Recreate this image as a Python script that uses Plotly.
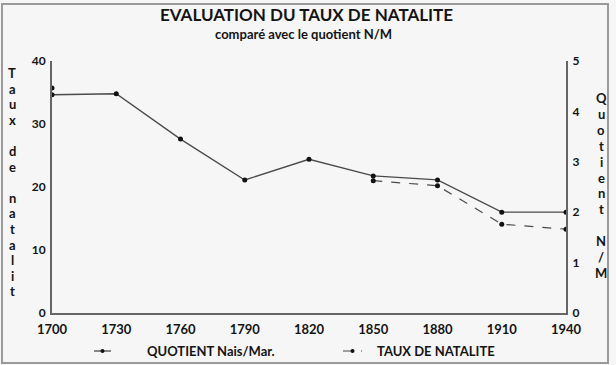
import plotly.graph_objects as go

years = [1700, 1730, 1760, 1790, 1820, 1850, 1880, 1910, 1940]
quotient = [4.33, 4.35, 3.45, 2.64, 3.05, 2.72, 2.64, 2.0, 2.0]
taux = [35.7, None, None, None, None, 21.0, 20.2, 14.1, 13.3]
left_ticks = [0, 10, 20, 30, 40]
right_ticks = [0, 1, 2, 3, 4, 5]
left_title = "Taux de natalit"
right_title = "Quotient N/M"

FONT = "Lato"
ink = "#141414"
axis_c = "#666666"
line_c = "#4a4a4a"

fig = go.Figure()
fig.add_trace(go.Scatter(
    x=years, y=quotient, yaxis="y2", mode="lines+markers",
    name="QUOTIENT Nais/Mar.", showlegend=False,
    line=dict(color=line_c, width=1.3),
    marker=dict(color="#111111", size=5),
))
fig.add_trace(go.Scatter(
    x=years, y=taux, mode="lines+markers", connectgaps=False,
    name="TAUX DE NATALITE", showlegend=False,
    line=dict(color=line_c, width=1.2, dash="dash"),
    marker=dict(color="#111111", size=5),
))

L, R, T, B = 52, 50, 61, 52
W, H = 616, 365
pw, ph = W - L - R, H - T - B

def px(x):
    return (x - L) / pw

def py(y):
    return (H - B - y) / ph

def ann(text, x, y, size, xanchor="center"):
    return dict(text=text, xref="paper", yref="paper", x=px(x), y=py(y),
                xanchor=xanchor, yanchor="middle", showarrow=False,
                font=dict(size=size, family=FONT))

annotations = [
    ann("<b>EVALUATION DU TAUX DE NATALITE</b>", 306, 15, 17),
    ann("<b>comparé avec le quotient N/M</b>", 303, 34, 13),
]

def stacked(text, xc, y0, step, size):
    y = y0
    for ch in text:
        if ch != " ":
            annotations.append(ann(f"<b>{ch}</b>", xc, y, size))
        y += step

stacked(left_title, 12, 73, 15.6, 13)
stacked(right_title, 601, 98, 15.9, 13)

# legend
annotations += [
    ann("<b>QUOTIENT Nais/Mar.</b>", 145, 351, 13, "left"),
    ann("<b>TAUX DE NATALITE</b>", 375, 351, 13, "left"),
]
shapes = [
    dict(type="rect", xref="paper", yref="paper", x0=px(2), x1=px(608), y0=py(363), y1=py(4),
         line=dict(color="#9a9a9a", width=2)),
    dict(type="line", xref="paper", yref="paper", x0=px(94), x1=px(111), y0=py(351), y1=py(351),
         line=dict(color=line_c, width=1.3)),
    dict(type="circle", xref="paper", yref="paper", x0=px(100.5), x1=px(104.5), y0=py(353), y1=py(349),
         fillcolor="#111111", line=dict(width=0)),
    dict(type="line", xref="paper", yref="paper", x0=px(343), x1=px(362), y0=py(351), y1=py(351),
         line=dict(color=line_c, width=1.2, dash="dash")),
    dict(type="circle", xref="paper", yref="paper", x0=px(350.5), x1=px(354.5), y0=py(353), y1=py(349),
         fillcolor="#111111", line=dict(width=0)),
]

fig.update_layout(
    width=W, height=H,
    margin=dict(l=L, r=R, t=T, b=B, autoexpand=False),
    paper_bgcolor="#f6f6f6", plot_bgcolor="#f6f6f6",
    font=dict(family=FONT, color=ink, size=12),
    showlegend=False,
    xaxis=dict(range=[1700, 1940], tickvals=years, ticktext=[f"<b>{y}</b>" for y in years],
               showgrid=False, zeroline=False, showline=True, linecolor=axis_c, linewidth=2,
               ticks="", tickfont=dict(size=13), ticklabelstandoff=3),
    yaxis=dict(range=[0, 40], tickvals=left_ticks, ticktext=[f"<b>{v}</b>" for v in left_ticks],
               showgrid=False, zeroline=False, showline=True, linecolor=axis_c, linewidth=2,
               ticks="", tickfont=dict(size=12), ticklabelstandoff=2),
    yaxis2=dict(range=[0, 5], overlaying="y", side="right",
                tickvals=right_ticks, ticktext=[f"<b>{v}</b>" for v in right_ticks],
                showgrid=False, zeroline=False, showline=True, linecolor=axis_c, linewidth=2,
                ticks="", tickfont=dict(size=12), ticklabelstandoff=2),
    annotations=annotations,
    shapes=shapes,
)

fig.write_html("out.html", config={"displayModeBar": False},
               post_script="document.body.style.margin='0';document.body.style.padding='0';document.body.style.overflow='hidden';")
